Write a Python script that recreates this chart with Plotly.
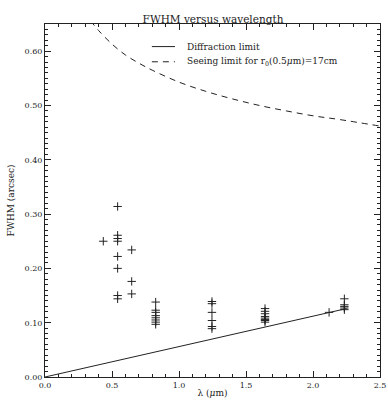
import plotly.graph_objects as go

# ---- data ----
# Measured FWHM values (arcsec) grouped by observing wavelength (micron)
band_wavelengths = [0.435, 0.542, 0.647, 0.826, 1.246, 1.642, 2.12, 2.234]
band_fwhm = [
    [0.250],
    [0.314, 0.261, 0.255, 0.250, 0.222, 0.200, 0.150, 0.144],
    [0.234, 0.176, 0.153],
    [0.138, 0.123, 0.119, 0.113, 0.109, 0.105, 0.101, 0.097],
    [0.139, 0.135, 0.119, 0.104, 0.093, 0.089],
    [0.126, 0.121, 0.1165, 0.1115, 0.1085, 0.106, 0.104, 0.101],
    [0.119],
    [0.144, 0.133, 0.130, 0.127, 0.124],
]

# Diffraction limit line (end points)
diff_wl = [0.0, 2.25]
diff_fwhm = [0.0, 0.126]

# Seeing limit curve
seeing_wl = [0.34, 0.40, 0.50, 0.60, 0.70, 0.80, 1.00, 1.20, 1.40, 1.60, 1.80, 2.00, 2.20, 2.50]
seeing_fwhm = [0.656, 0.638, 0.613, 0.593, 0.578, 0.565, 0.543, 0.526, 0.512, 0.500, 0.490, 0.481, 0.474, 0.462]

title_text = "FWHM versus wavelength"
x_title = "λ (<i>μ</i>m)"
y_title = "FWHM (arcsec)"
legend_labels = ["Diffraction limit", "Seeing limit for r<sub>0</sub>(0.5<i>μ</i>m)=17cm"]

x_ticks = [0.0, 0.5, 1.0, 1.5, 2.0, 2.5]
y_ticks = [0.0, 0.1, 0.2, 0.3, 0.4, 0.5, 0.6]

# ---- figure ----
FONT = "DejaVu Serif"
INK = "#222222"

obs_x, obs_y = [], []
for wl, vals in zip(band_wavelengths, band_fwhm):
    for v in vals:
        obs_x.append(wl)
        obs_y.append(v)

fig = go.Figure()
fig.add_trace(go.Scatter(x=diff_wl, y=diff_fwhm, mode="lines",
                         line=dict(color=INK, width=1), showlegend=False))
fig.add_trace(go.Scatter(x=seeing_wl, y=seeing_fwhm, mode="lines",
                         line=dict(color=INK, width=1, dash="6px,5px", shape="spline"),
                         showlegend=False))
fig.add_trace(go.Scatter(x=obs_x, y=obs_y, mode="markers",
                         marker=dict(symbol="cross-thin", size=6,
                                     line=dict(color=INK, width=1)),
                         showlegend=False))

axis_common = dict(
    showgrid=False, zeroline=False, showline=True, linecolor=INK, linewidth=1,
    mirror="allticks", ticks="inside", ticklen=6, tickcolor=INK, tickwidth=1,
    tickfont=dict(family=FONT, size=8, color=INK), automargin=False,
    ticklabeloverflow="allow",
)
fig.update_xaxes(range=[0, 2.5], tickvals=x_ticks,
                 ticktext=[f"{v:.1f}" for v in x_ticks],
                 minor=dict(dtick=0.1, ticks="inside", ticklen=3, tickcolor=INK),
                 title=dict(text=x_title, font=dict(family=FONT, size=9, color=INK), standoff=1),
                 **axis_common)
fig.update_yaxes(range=[0, 0.65], tickvals=y_ticks,
                 ticktext=[f"{v:.2f}" for v in y_ticks],
                 minor=dict(dtick=0.01, ticks="inside", ticklen=3, tickcolor=INK),
                 title=dict(text=y_title, font=dict(family=FONT, size=9, color=INK), standoff=8),
                 **axis_common)

# legend samples
lx0, lx1, ltext = 0.319, 0.388, 0.418
for ypos, dash, label in [(0.936, "solid", legend_labels[0]), (0.893, "6px,5px", legend_labels[1])]:
    fig.add_shape(type="line", xref="paper", yref="paper", x0=lx0, x1=lx1, y0=ypos, y1=ypos,
                  line=dict(color=INK, width=1, dash=dash))
    fig.add_annotation(xref="paper", yref="paper", x=ltext, y=ypos, text=label,
                       showarrow=False, xanchor="left", yanchor="middle",
                       font=dict(family=FONT, size=9, color=INK))

fig.update_layout(
    width=388, height=401,
    margin=dict(l=45, r=8, t=24, b=24),
    paper_bgcolor="white", plot_bgcolor="white",
    title=dict(text=title_text, x=0.549, xanchor="center", y=0.953, yanchor="middle",
               yref="container", font=dict(family=FONT, size=10.5, color=INK)),
)

fig.write_html("out.html", config={"displayModeBar": False},
               post_script="document.body.style.margin='0';document.body.style.overflow='hidden';")
